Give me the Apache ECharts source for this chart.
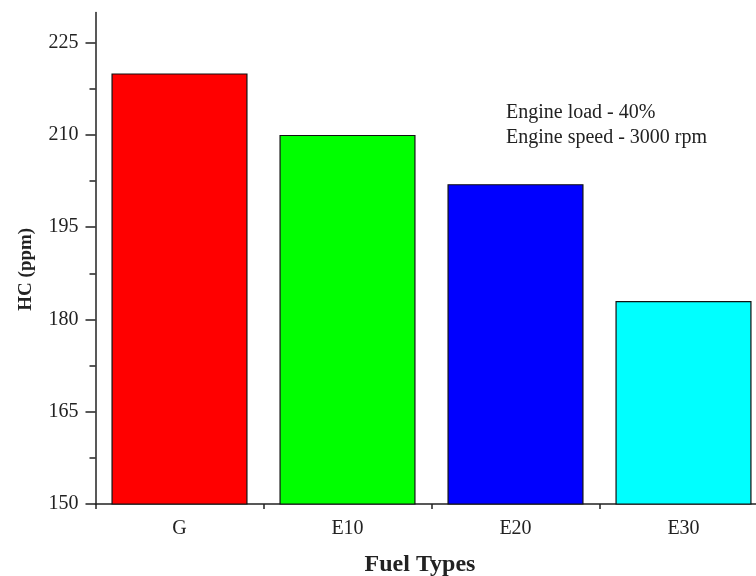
<!DOCTYPE html>
<html>
<head>
<meta charset="utf-8">
<script src="https://cdn.jsdelivr.net/npm/echarts@6/dist/echarts.min.js"></script>
<style>html,body{margin:0;padding:0;background:#fff}#c{width:756px;height:576px}</style>
</head>
<body>
<div id="c"></div>
<script>
var categories = ['G', 'E10', 'E20', 'E30'];
var hcValues = [220, 210, 202, 183];
var barColors = ['#ff0000', '#00ff00', '#0000ff', '#00ffff'];
var yTicks = [150, 165, 180, 195, 210, 225];
var notes = ['Engine load - 40%', 'Engine speed - 3000 rpm'];

var chart = echarts.init(document.getElementById('c'), null, {renderer: 'canvas'});
var font = '"Liberation Serif", "Times New Roman", serif';
chart.setOption({
  animation: false,
  backgroundColor: '#fff',
  grid: {left: 95.5, top: 12.5, width: 672, height: 491.5, containLabel: false, outerBoundsMode: 'none'},
  xAxis: [{
    type: 'category',
    data: categories,
    axisLine: {lineStyle: {color: '#222', width: 1.5}},
    axisTick: {alignWithLabel: true, length: 8, lineStyle: {color: '#222', width: 1.5}},
    axisLabel: {color: '#222', fontFamily: font, fontSize: 20, margin: 15},
    name: 'Fuel Types',
    nameLocation: 'middle',
    nameGap: 49,
    nameTextStyle: {color: '#222', fontFamily: font, fontSize: 24, fontWeight: 'bold', padding: [0, 23, 0, 0]}
  }, {
    type: 'category',
    data: categories,
    position: 'bottom',
    axisLine: {show: false},
    axisTick: {show: true, length: 5, lineStyle: {color: '#222', width: 1.5}},
    axisLabel: {show: false}
  }],
  yAxis: {
    type: 'value',
    min: 150,
    max: 229.9,
    interval: 15,
    axisLine: {show: true, lineStyle: {color: '#222', width: 1.5}},
    axisTick: {show: true, length: 10, customValues: yTicks, lineStyle: {color: '#222', width: 1.5}},
    minorTick: {show: true, splitNumber: 2, length: 6, lineStyle: {color: '#222', width: 1.5}},
    splitLine: {show: false},
    axisLabel: {color: '#222', fontFamily: font, fontSize: 20, margin: 17, customValues: yTicks},
    name: 'HC (ppm)',
    nameLocation: 'middle',
    nameGap: 60,
    nameTextStyle: {color: '#222', fontFamily: font, fontSize: 19, fontWeight: 'bold', padding: [0, 22, 0, 0]}
  },
  graphic: [{
    type: 'text',
    left: 506,
    top: 100,
    style: {text: notes.join('\n'), fill: '#222', font: '20px ' + font, lineHeight: 25}
  }],
  series: [{
    type: 'bar',
    xAxisIndex: 0,
    barCategoryGap: '19%',
    data: hcValues.map(function (v, i) {
      return {value: v, itemStyle: {color: barColors[i]}};
    }),
    itemStyle: {borderColor: '#111', borderWidth: 1.2}
  }]
});
</script>
</body>
</html>
